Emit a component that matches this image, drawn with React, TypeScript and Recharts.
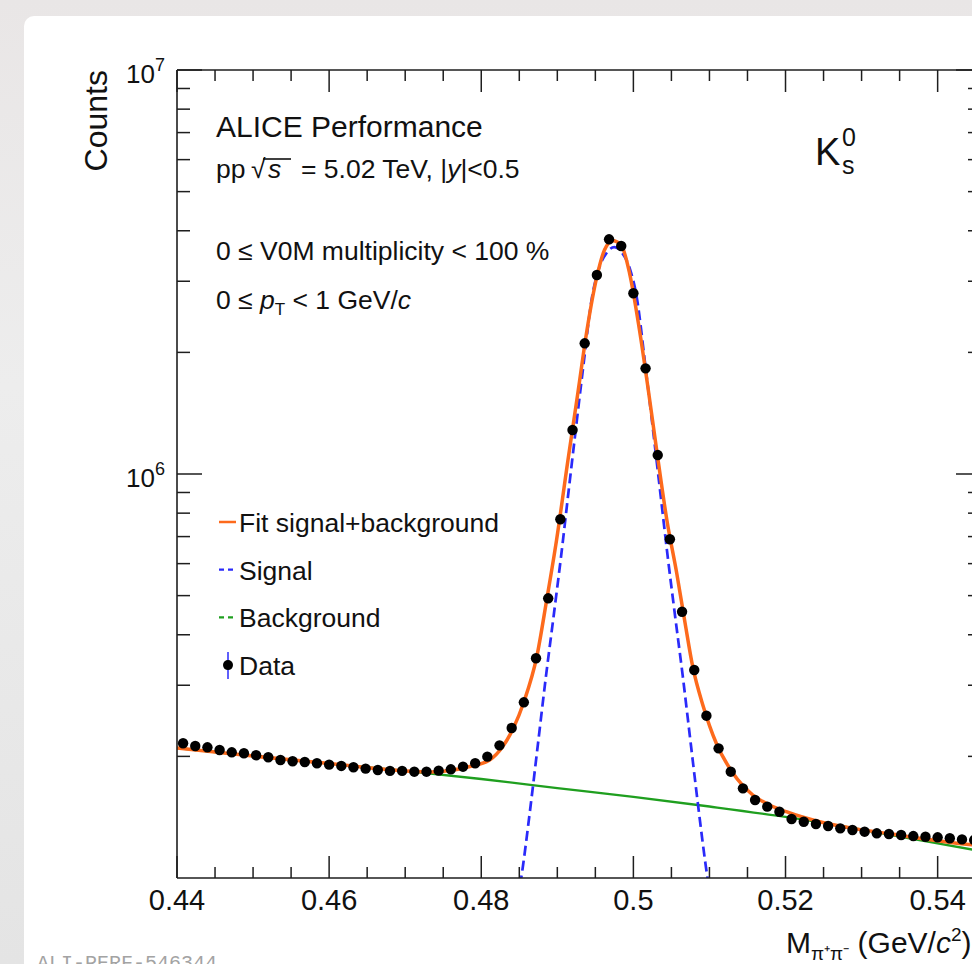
import React from 'react';
import { ComposedChart, Line, Scatter, XAxis, YAxis } from 'recharts';

// K0s invariant mass, bin centres (GeV/c^2)
const massBins = [
  0.4408, 0.4424, 0.444, 0.4456, 0.4472, 0.4488, 0.4504, 0.452, 0.4536, 0.4552,
  0.4568, 0.4584, 0.46, 0.4616, 0.4632, 0.4648, 0.4664, 0.468, 0.4696, 0.4712,
  0.4728, 0.4744, 0.476, 0.4776, 0.4792, 0.4808, 0.4824, 0.484, 0.4856, 0.4872,
  0.4888, 0.4904, 0.492, 0.4936, 0.4952, 0.4968, 0.4984, 0.5, 0.5016, 0.5032,
  0.5048, 0.5064, 0.508, 0.5096, 0.5112, 0.5128, 0.5144, 0.516, 0.5176, 0.5192,
  0.5208, 0.5224, 0.524, 0.5256, 0.5272, 0.5288, 0.5304, 0.532, 0.5336, 0.5352,
  0.5368, 0.5384, 0.54, 0.5416, 0.5432, 0.5448,
];
const counts = [
  215500, 212200, 210600, 207400, 204700, 203600, 201300, 199000, 195900, 194500,
  193700, 192300, 190800, 189400, 188000, 186500, 185100, 184100, 184100, 183300,
  183300, 184400, 185800, 188600, 192300, 199700, 213000, 235100, 272200, 349800,
  492400, 772600, 1285000, 2106000, 3109000, 3810000, 3667000, 2802000, 1826000, 1114000,
  689300, 456200, 327200, 252200, 209400, 183300, 166700, 156000, 150200, 145900,
  140000, 137800, 136000, 134500, 132700, 131500, 130200, 129000, 128500, 127800,
  127000, 126500, 126100, 125400, 124600, 124100,
];

// fit signal+background
const fitMass = [
  0.44, 0.45, 0.4601, 0.4701, 0.4732, 0.4759, 0.4785, 0.4811, 0.4828, 0.4842,
  0.4856, 0.4873, 0.4886, 0.4899, 0.4914, 0.4927, 0.4939, 0.4952, 0.4962, 0.4973,
  0.4984, 0.4995, 0.5008, 0.5019, 0.503, 0.5044, 0.5057, 0.5068, 0.5078, 0.5092,
  0.5109, 0.5131, 0.5157, 0.5179, 0.5201, 0.5245, 0.5289, 0.5333, 0.5376, 0.542, 0.546,
];
const fitCounts = [
  209800, 200400, 192000, 184100, 183000, 184600, 188800, 195900, 211300, 234400,
  272700, 353000, 487700, 686600, 1083000, 1587000, 2272000, 3079000, 3585000, 3780000,
  3688000, 3139000, 2272000, 1645000, 1168000, 769500, 567800, 427100, 333400, 265500,
  215500, 181600, 160500, 151600, 145900, 137800, 132700, 129000, 125400, 122300, 120000,
];

// signal only (blue dashed)
const sigMass = [
  0.4845, 0.4855, 0.4865, 0.4875, 0.4885, 0.4895, 0.4905, 0.4915, 0.4925, 0.4935,
  0.4945, 0.4955, 0.4965, 0.4975, 0.4985, 0.4995, 0.5005, 0.5015, 0.5025, 0.5035,
  0.5045, 0.5055, 0.5065, 0.5075, 0.5085, 0.5095, 0.5105,
];
const sigCounts = [
  81000, 107700, 151600, 218400, 315000, 442700, 626800, 912900, 1325000, 1905000,
  2696000, 3236000, 3530000, 3646000, 3530000, 3236000, 2696000, 1905000, 1325000, 912900,
  626800, 442700, 315000, 218400, 151600, 107700, 81000,
];

// background only (green)
const bkgMass = [0.44, 0.45, 0.46, 0.47, 0.48, 0.49, 0.5, 0.51, 0.52, 0.53, 0.54, 0.546];
const bkgCounts = [209800, 200400, 192000, 184100, 175800, 167000, 158700, 150300, 141600, 131700, 121800, 116300];

const xTicks = [
  0.44, 0.445, 0.45, 0.455, 0.46, 0.465, 0.47, 0.475, 0.48, 0.485, 0.49,
  0.495, 0.5, 0.505, 0.51, 0.515, 0.52, 0.525, 0.53, 0.535, 0.54, 0.545,
];
const xMajor = [0.44, 0.46, 0.48, 0.5, 0.52, 0.54];
const yTicks = [
  2e5, 3e5, 4e5, 5e5, 6e5, 7e5, 8e5, 9e5, 1e6,
  2e6, 3e6, 4e6, 5e6, 6e6, 7e6, 8e6, 9e6, 1e7,
];
const yMajor = [1e6, 1e7];

const dataPoints = massBins.map((m, i) => ({ m, v: counts[i] }));
const fitLine = fitMass.map((m, i) => ({ m, v: fitCounts[i] }));
const sigLine = sigMass.map((m, i) => ({ m, v: sigCounts[i] }));
const bkgLine = bkgMass.map((m, i) => ({ m, v: bkgCounts[i] }));

const FONT = '"Liberation Sans", Arial, Helvetica, sans-serif';
const INK = '#1e1e1e';
const ORANGE = '#fd6a1c';
const BLUE = '#2a2afa';
const GREEN = '#1f9f1f';

const isMajor = (v: number, list: number[]) => list.some((m) => Math.abs(m - v) < 1e-9 * Math.max(1, m));

function BottomTick(props: any) {
  const { x, y, payload } = props;
  const major = isMajor(payload.value, xMajor);
  return (
    <g>
      <line x1={x} y1={y} x2={x} y2={y - (major ? 22 : 11)} stroke={INK} strokeWidth={1.5} />
      {major && (
        <text x={x} y={y + 32} textAnchor="middle" fontSize={29} fontFamily={FONT} fill="#111">
          {String(Number(payload.value.toFixed(2)))}
        </text>
      )}
    </g>
  );
}

function TopTick(props: any) {
  const { x, y, payload } = props;
  const major = isMajor(payload.value, xMajor);
  return <line x1={x} y1={y} x2={x} y2={y + (major ? 22 : 11)} stroke={INK} strokeWidth={1.5} />;
}

function LeftTick(props: any) {
  const { x, y, payload } = props;
  const major = isMajor(payload.value, yMajor);
  const exp = Math.round(Math.log10(payload.value));
  return (
    <g>
      <line x1={x} y1={y} x2={x + (major ? 25 : 13)} y2={y} stroke={INK} strokeWidth={1.5} />
      {major && (
        <text x={x - 12} y={y + 13} textAnchor="end" fontSize={26} fontFamily={FONT} fill="#111">
          10<tspan fontSize={18} dy={-12}>{exp}</tspan>
        </text>
      )}
    </g>
  );
}

function RightTick(props: any) {
  const { x, y, payload } = props;
  const major = isMajor(payload.value, yMajor);
  return <line x1={x} y1={y} x2={x - (major ? 25 : 13)} y2={y} stroke={INK} strokeWidth={1.5} />;
}

const DataDot = (props: any) => <circle cx={props.cx} cy={props.cy} r={5.2} fill="#000" />;

const legendRows = [
  { label: 'Fit signal+background', kind: 'line', color: ORANGE },
  { label: 'Signal', kind: 'dash', color: BLUE },
  { label: 'Background', kind: 'dash', color: GREEN },
  { label: 'Data', kind: 'marker', color: '#000' },
];

export default function App() {
  const axisLine = { stroke: INK, strokeWidth: 1.6 };
  return (
    <div
      style={{
        position: 'absolute',
        left: 0,
        top: 0,
        width: 972,
        height: 964,
        overflow: 'hidden',
        background: 'linear-gradient(180deg, #e9e6e6 0%, #ededed 40%, #e4e4e4 100%)',
      }}
    >
      <div
        style={{
          position: 'absolute',
          left: 24,
          top: 16,
          width: 980,
          height: 990,
          background: '#fff',
          borderRadius: 10,
        }}
      />
      <ComposedChart
        width={1000}
        height={964}
        margin={{ top: 69, right: 18, bottom: 0, left: 0 }}
        style={{ position: 'absolute', left: 0, top: 0 }}
      >
        <XAxis
          dataKey="m"
          type="number"
          domain={[0.44, 0.5457]}
          allowDataOverflow
          ticks={xTicks}
          interval={0}
          height={86}
          tickSize={0}
          tickMargin={0}
          tickLine={false}
          axisLine={axisLine}
          tick={<BottomTick />}
        />
        <XAxis
          xAxisId="top"
          orientation="top"
          dataKey="m"
          type="number"
          domain={[0.44, 0.5457]}
          allowDataOverflow
          ticks={xTicks}
          interval={0}
          height={1}
          tickSize={0}
          tickMargin={0}
          tickLine={false}
          axisLine={axisLine}
          tick={<TopTick />}
        />
        <YAxis
          type="number"
          scale="log"
          domain={[1e5, 1e7]}
          allowDataOverflow
          ticks={yTicks}
          interval={0}
          width={177}
          tickSize={0}
          tickMargin={0}
          tickLine={false}
          axisLine={axisLine}
          tick={<LeftTick />}
        />
        <YAxis
          yAxisId="right"
          orientation="right"
          type="number"
          scale="log"
          domain={[1e5, 1e7]}
          allowDataOverflow
          ticks={yTicks}
          interval={0}
          width={1}
          tickSize={0}
          tickMargin={0}
          tickLine={false}
          axisLine={axisLine}
          tick={<RightTick />}
        />
        <Scatter data={dataPoints} dataKey="v" shape={DataDot} isAnimationActive={false} />
        {/* invisible series so the top and right frame axes get drawn */}
        <Line
          data={bkgLine}
          dataKey="v"
          xAxisId="top"
          yAxisId="right"
          stroke="none"
          dot={false}
          legendType="none"
          isAnimationActive={false}
        />
        <Line data={bkgLine} dataKey="v" type="monotone" stroke={GREEN} strokeWidth={2.3} dot={false} isAnimationActive={false} />
        <Line
          data={sigLine}
          dataKey="v"
          type="monotone"
          stroke={BLUE}
          strokeWidth={2.7}
          strokeDasharray="10 5"
          dot={false}
          isAnimationActive={false}
        />
        <Line data={fitLine} dataKey="v" type="monotone" stroke={ORANGE} strokeWidth={3.5} dot={false} isAnimationActive={false} />
      </ComposedChart>

      <svg
        width={972}
        height={964}
        style={{ position: 'absolute', left: 0, top: 0, pointerEvents: 'none' }}
        fontFamily={FONT}
        fill="#111"
      >
        <text x={107} y={70} fontSize={32} textAnchor="end" transform="rotate(-90 107 70)">
          Counts
        </text>

        <text x={216} y={137} fontSize={30}>ALICE Performance</text>
        <text x={216} y={178} fontSize={26.5}>pp</text>
        <text x={251} y={178} fontSize={26.5}>√</text>
        <line x1={263} x2={291} y1={159} y2={159} stroke="#111" strokeWidth={1.6} />
        <text x={268} y={178} fontSize={26.5} fontStyle="italic">s</text>
        <text x={301} y={178} fontSize={26.5}>
          = 5.02 TeV, |<tspan fontStyle="italic">y</tspan>|&lt;0.5
        </text>
        <text x={216} y={260} fontSize={26.5}>0 ≤ V0M multiplicity &lt; 100 %</text>
        <text x={216} y={309} fontSize={26.5}>
          0 ≤ <tspan fontStyle="italic">p</tspan>
          <tspan fontSize={17} dy={6}>T</tspan>
          <tspan dy={-6}> &lt; 1 GeV/</tspan>
          <tspan fontStyle="italic">c</tspan>
        </text>

        <text x={815} y={165} fontSize={38}>K</text>
        <text x={842} y={146} fontSize={25}>0</text>
        <text x={842} y={174} fontSize={25}>s</text>

        {legendRows.map((r, i) => {
          const base = 532 + i * 47.7;
          const mid = base - 10;
          return (
            <g key={r.label}>
              {r.kind === 'line' && <line x1={219} x2={236} y1={mid} y2={mid} stroke={r.color} strokeWidth={2.5} />}
              {r.kind === 'dash' && (
                <line x1={219} x2={236} y1={mid} y2={mid} stroke={r.color} strokeWidth={2.2} strokeDasharray="5 4" />
              )}
              {r.kind === 'marker' && (
                <g>
                  <line x1={228} x2={228} y1={mid - 13} y2={mid + 14} stroke={BLUE} strokeWidth={1.5} />
                  <circle cx={228} cy={mid} r={5} fill="#000" />
                </g>
              )}
              <text x={239} y={base} fontSize={26.5}>{r.label}</text>
            </g>
          );
        })}

        <text x={786} y={953} fontSize={30}>
          M<tspan fontSize={19} dy={7}>π⁺π⁻</tspan>
          <tspan dy={-7}> (GeV/</tspan>
          <tspan fontStyle="italic">c</tspan>
          <tspan fontSize={19} dy={-12}>2</tspan>
          <tspan dy={12}>)</tspan>
        </text>

        <text x={37} y={969} fontSize={20} fontFamily='"Liberation Mono", "DejaVu Sans Mono", monospace' fill="#a3a3a3">
          ALI-PERF-546344
        </text>
      </svg>
    </div>
  );
}
